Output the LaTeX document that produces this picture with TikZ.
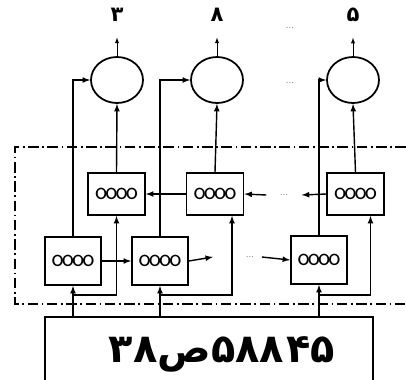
\documentclass[tikz,border=0pt]{standalone}
\usepackage{fontspec}
\newfontfamily\persianfont[Script=Arabic]{DejaVu Sans}
\usetikzlibrary{shapes}
\usetikzlibrary{arrows}
\newcommand{\cellrow}{o\kern-1.6pt o\kern-1.6pt o\kern-1.6pt o}
\tikzset{
  cell_box/.style = {rectangle, draw=black, line width=1.5pt, inner sep=0pt,
    minimum width=1.71cm, minimum height=1.26cm,
    font=\sffamily\fontsize{22}{22}\selectfont},% cellule recurrente
  low_box/.style = {cell_box, minimum width=1.68cm, minimum height=1.44cm},% cellule du bas
  out_node/.style = {ellipse, draw=black, line width=1.5pt, inner sep=0pt,
    minimum width=1.56cm, minimum height=1.38cm},% sortie
  digit_label/.style = {font=\persianfont\bfseries\fontsize{18}{18}\selectfont},
  dots_node/.style = {font=\footnotesize, text=black!60, inner sep=0pt},
  plate_box/.style = {rectangle, draw=black, line width=1.5pt,
    minimum width=9.84cm, minimum height=2.4cm},% plaque
  plate_text/.style = {font=\persianfont\bfseries\fontsize{34}{34}\selectfont},
  link/.style = {line width=1.2pt, -latex},
  thin_link/.style = {line width=0.7pt, -latex},
  frame_line/.style = {line width=1.5pt, dash pattern=on 9pt off 3pt on 1.5pt off 3pt}
}
\begin{document}
\begin{tikzpicture}[x=0.03cm, y=-0.03cm]
  \useasboundingbox (0,0) rectangle (406,380);
  % sorties
  \node [digit_label] (lab1) at (117,15) {۳};
  \node [digit_label] (lab2) at (217,15) {۸};
  \node [digit_label] (lab3) at (353,15) {۵};
  \node [dots_node] (dotsT) at (290,28) {...};
  \node [out_node] (out1) at (117,80) {};
  \node [out_node] (out2) at (217,80) {};
  \node [out_node] (out3) at (353,80) {};
  \node [dots_node] (dotsM) at (290,83) {...};
  % cellules
  \node [cell_box] (up1) at (116.5,194) {\cellrow};
  \node [cell_box] (up2) at (215,194) {\cellrow};
  \node [cell_box] (up3) at (355.5,194) {\cellrow};
  \node [dots_node, minimum width=1.05cm] (dotsU) at (284,195) {...};
  \node [low_box] (low1) at (73,261) {\cellrow};
  \node [low_box] (low2) at (160,261) {\cellrow};
  \node [low_box] (low3) at (319,260) {\cellrow};
  \node [dots_node, minimum width=0.7cm] (dotsL) at (250,257) {...};
  \coordinate (gapL) at (213,257);
  % plaque
  \node [plate_box] (plate) at (209,357) {};
  \node [plate_text] (num) at (222,354)
    {\mbox{۳۸}\kern0pt\mbox{ص}\kern0pt\mbox{۵۸۸}\kern2pt\mbox{۴۵}};
  \coordinate (fork1) at (73,295);
  \coordinate (fork2) at (160,295);
  \coordinate (fork3) at (319,295);
  % cadre
  \draw [frame_line] (406,147) -- (15,147) -- (15,304) -- (406,304);
  % liaisons
  \foreach \i in {1,2,3}{
    \draw [thin_link] (out\i.north) -- (lab\i.south) [shorten >=0.35cm];
    \draw [link] (up\i.north) -- (out\i.south);
    \draw [link] (low\i.north) |- (out\i.west);
    \draw [link] (low\i.south |- plate.north) -- (low\i.south);
  }
  \draw [link] (fork1) -| (up1.south);
  \draw [link] (fork2) -| ([xshift=0.51cm]up2.south);
  \draw [link] (fork3) -| ([xshift=0.45cm]up3.south);
  \draw [link] (up2.west) -- (up1.east);
  \draw [link] (up3.west) -- (dotsU.east);
  \draw [link] (dotsU.west) -- (up2.east);
  \draw [link] (low1.east) -- (low2.west);
  \draw [link] (low2.east) -- (gapL);
  \draw [link] (dotsL.east) -- (low3.west);
\end{tikzpicture}
\end{document}
